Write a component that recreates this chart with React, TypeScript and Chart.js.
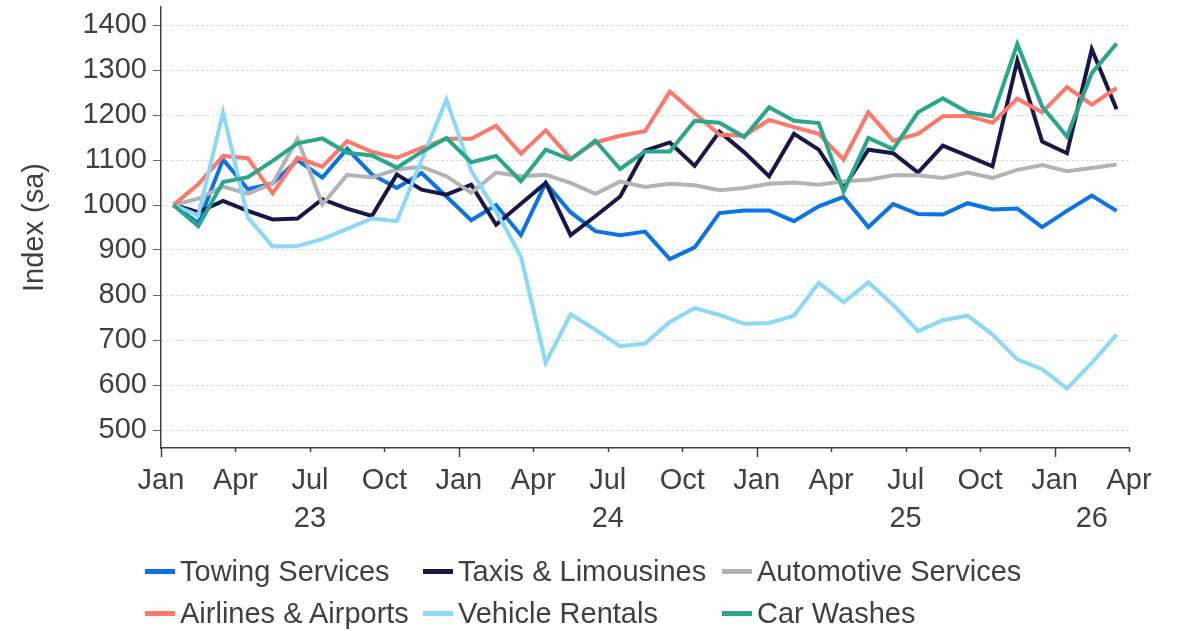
import React, { useEffect, useRef } from 'react';
import { Chart, registerables } from 'chart.js';

Chart.register(...registerables);

// Monthly periods (data plotted mid-month)
const periods = [
  '2023-01', '2023-02', '2023-03', '2023-04', '2023-05', '2023-06', '2023-07', '2023-08', '2023-09', '2023-10', '2023-11', '2023-12',
  '2024-01', '2024-02', '2024-03', '2024-04', '2024-05', '2024-06', '2024-07', '2024-08', '2024-09', '2024-10', '2024-11', '2024-12',
  '2025-01', '2025-02', '2025-03', '2025-04', '2025-05', '2025-06', '2025-07', '2025-08', '2025-09', '2025-10', '2025-11', '2025-12',
  '2026-01', '2026-02', '2026-03',
];

const quarterTickLabels = ['Jan', 'Apr', 'Jul', 'Oct'];
const yearLabels = ['23', '24', '25', '26'];
const xTickValues = [0, 3, 6, 9, 12, 15, 18, 21, 24, 27, 30, 33, 36, 39];
const yTickValues = [500, 600, 700, 800, 900, 1000, 1100, 1200, 1300, 1400];

const towingServices = [1000, 960, 1101, 1035, 1048, 1100, 1061, 1125, 1068, 1038, 1071, 1019, 966, 1000, 933, 1049, 984, 942, 933, 941, 880, 906, 982, 988, 988, 964, 997, 1018, 951, 1002, 980, 979, 1004, 990, 992, 951, 987, 1021, 987];
const taxisLimousines = [1000, 984, 1009, 987, 968, 970, 1013, 992, 976, 1068, 1034, 1023, 1045, 956, 1003, 1049, 933, 975, 1019, 1121, 1139, 1087, 1163, 1117, 1064, 1158, 1123, 1038, 1123, 1115, 1072, 1132, 1109, 1086, 1321, 1141, 1115, 1346, 1213];
const automotiveServices = [1000, 1014, 1041, 1025, 1048, 1147, 1001, 1067, 1061, 1079, 1085, 1064, 1027, 1072, 1064, 1067, 1049, 1025, 1052, 1040, 1047, 1044, 1033, 1038, 1047, 1050, 1045, 1053, 1056, 1066, 1066, 1060, 1072, 1060, 1078, 1089, 1075, 1082, 1090];
const airlinesAirports = [1000, 1046, 1109, 1104, 1026, 1105, 1085, 1142, 1118, 1105, 1127, 1147, 1147, 1176, 1114, 1166, 1103, 1139, 1154, 1164, 1252, 1204, 1156, 1154, 1189, 1173, 1158, 1101, 1206, 1143, 1158, 1197, 1198, 1183, 1236, 1206, 1262, 1223, 1260];
const vehicleRentals = [1000, 977, 1206, 972, 908, 909, 924, 947, 970, 964, 1100, 1234, 1076, 986, 886, 649, 757, 723, 686, 692, 740, 771, 756, 736, 738, 754, 827, 784, 828, 778, 720, 744, 754, 712, 657, 635, 592, 649, 712];
const carWashes = [1000, 953, 1051, 1062, 1098, 1137, 1148, 1116, 1110, 1083, 1118, 1149, 1095, 1109, 1053, 1123, 1101, 1143, 1080, 1119, 1119, 1187, 1183, 1151, 1217, 1187, 1182, 1030, 1149, 1124, 1206, 1237, 1206, 1197, 1358, 1219, 1152, 1293, 1359];

const seriesNames = ['Towing Services', 'Taxis & Limousines', 'Automotive Services', 'Airlines & Airports', 'Vehicle Rentals', 'Car Washes'];
const seriesColors = ['#0a74e6', '#1b1648', '#b3b3b3', '#fd776b', '#8ad8fa', '#2aa78a'];
const seriesValues = [towingServices, taxisLimousines, automotiveServices, airlinesAirports, vehicleRentals, carWashes];

const FONT = '"Liberation Sans", Arial, Helvetica, sans-serif';
const TEXT = '#404040';
const FS = 29;

const monthPos = (p: string) => {
  const [y, m] = p.split('-').map(Number);
  return (y - 2023) * 12 + (m - 1) + 0.5;
};

const axisDecor = {
  id: 'axisDecor',
  afterDraw(chart: any) {
    const { ctx, chartArea, scales } = chart;
    const x = scales.x;
    ctx.save();
    ctx.strokeStyle = TEXT;
    ctx.lineWidth = 1.5;
    for (const t of x.ticks) {
      const px = Math.round(x.getPixelForValue(t.value)) + 0.5;
      const len = t.value % 12 === 0 ? 9 : 4;
      ctx.beginPath();
      ctx.moveTo(px, chartArea.bottom);
      ctx.lineTo(px, chartArea.bottom + len);
      ctx.stroke();
    }
    ctx.font = `${FS}px ${FONT}`;
    ctx.fillStyle = TEXT;
    ctx.textAlign = 'center';
    ctx.textBaseline = 'middle';
    yearLabels.forEach((lbl, k) => {
      const start = k * 12;
      const end = Math.min(start + 12, x.max);
      const px = x.getPixelForValue((start + end) / 2);
      ctx.fillText(lbl, px, chartArea.bottom + 71);
    });
    ctx.restore();
  },
};

const legendCols = [145, 423, 722];
const legendRows = [571, 613];

export default function App() {
  const ref = useRef<HTMLCanvasElement>(null);

  useEffect(() => {
    document.body.style.margin = '0';
    const canvas = ref.current!;
    const chart = new Chart(canvas, {
      type: 'line',
      data: {
        datasets: seriesNames.map((name, i) => ({
          label: name,
          data: seriesValues[i].map((v, j) => ({ x: monthPos(periods[j]), y: v })),
          borderColor: seriesColors[i],
          backgroundColor: seriesColors[i],
          borderWidth: 4,
          pointRadius: 0,
          pointHoverRadius: 0,
          tension: 0,
          fill: false,
          order: seriesNames.length - i,
        })),
      },
      options: {
        animation: false,
        responsive: false,
        maintainAspectRatio: false,
        layout: { padding: { left: 0, right: 49, top: 7, bottom: 0 } },
        plugins: { legend: { display: false }, tooltip: { enabled: false } },
        scales: {
          x: {
            type: 'linear',
            min: 0,
            max: 39,
            afterBuildTicks: (s: any) => {
              s.ticks = xTickValues.map((v) => ({ value: v }));
            },
            afterFit: (s: any) => {
              s.height = 183;
            },
            ticks: {
              autoSkip: false,
              maxRotation: 0,
              padding: 7,
              color: TEXT,
              font: { family: FONT, size: FS },
              callback: (v: any) => quarterTickLabels[(Number(v) / 3) % 4],
            },
            grid: {
              display: true,
              drawOnChartArea: false,
              drawTicks: true,
              tickLength: 9,
              color: 'rgba(0,0,0,0)',
              tickColor: 'rgba(0,0,0,0)',
            },
            border: { display: true, color: TEXT, width: 1.5 },
          },
          y: {
            type: 'linear',
            min: 460,
            max: 1440,
            afterBuildTicks: (s: any) => {
              s.ticks = yTickValues.map((v) => ({ value: v }));
            },
            afterFit: (s: any) => {
              s.width = 161;
              s.paddingTop = 0;
              s.paddingBottom = 0;
            },
            ticks: {
              padding: 6,
              color: TEXT,
              font: { family: FONT, size: FS },
              callback: (v: any) => String(v),
            },
            grid: {
              color: '#c3d0d9',
              lineWidth: 1,
              drawTicks: true,
              tickLength: 8,
              tickColor: '#666666',
              tickWidth: 1,
            },
            border: { display: true, color: TEXT, width: 1.5, dash: [2, 3] },
            title: {
              display: true,
              text: 'Index (sa)',
              color: TEXT,
              font: { family: FONT, size: FS },
              padding: { top: 18, bottom: 0 },
            },
          },
        },
      },
      plugins: [axisDecor],
    } as any);
    return () => chart.destroy();
  }, []);

  return (
    <div style={{ position: 'relative', width: 1178, height: 631, background: '#ffffff' }}>
      <canvas ref={ref} width={1178} height={631} style={{ display: 'block', width: 1178, height: 631 }} />
      {seriesNames.map((name, i) => {
        const col = i % 3;
        const row = Math.floor(i / 3);
        return (
          <div
            key={name}
            style={{
              position: 'absolute',
              left: legendCols[col],
              top: legendRows[row] - 20,
              height: 40,
              display: 'flex',
              alignItems: 'center',
              whiteSpace: 'nowrap',
              fontFamily: FONT,
              fontSize: FS,
              color: TEXT,
            }}
          >
            <span style={{ display: 'inline-block', width: 30, height: 5, background: seriesColors[i], marginRight: 5 }} />
            <span>{name}</span>
          </div>
        );
      })}
    </div>
  );
}
